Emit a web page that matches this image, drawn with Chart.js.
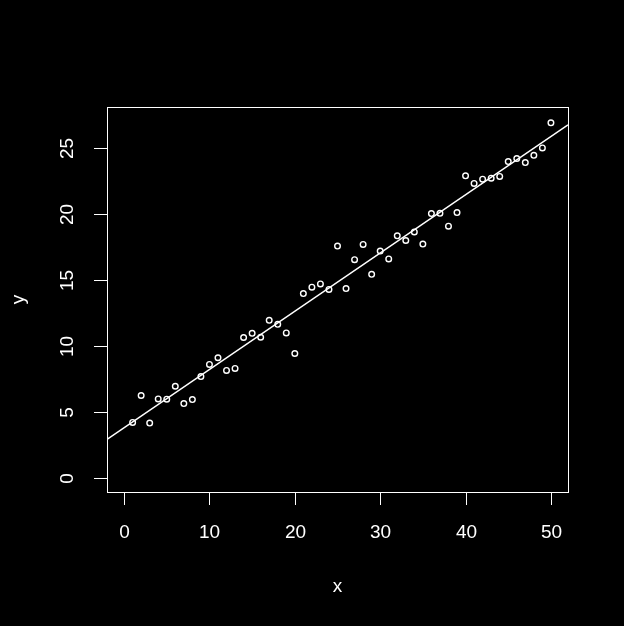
<!DOCTYPE html>
<html>
<head>
<meta charset="utf-8">
<script src="https://cdn.jsdelivr.net/npm/chart.js@4/dist/chart.umd.min.js"></script>
<style>
  html, body { margin: 0; padding: 0; background: #000; }
  canvas { display: block; }
</style>
</head>
<body>
<canvas id="plot" width="624" height="626"></canvas>
<script>
// observed values, x = 1..50
const xs = [1,2,3,4,5,6,7,8,9,10,11,12,13,14,15,16,17,18,19,20,
            21,22,23,24,25,26,27,28,29,30,31,32,33,34,35,36,37,38,39,40,
            41,42,43,44,45,46,47,48,49,50];
const ys = [4.19,6.23,4.14,5.97,5.95,6.93,5.62,5.92,7.66,8.58,
            9.09,8.13,8.28,10.62,10.94,10.64,11.92,11.62,10.97,9.41,
            13.95,14.43,14.68,14.26,17.55,14.33,16.52,17.67,15.41,17.17,
            16.57,18.32,17.97,18.62,17.70,20.01,20.03,19.05,20.08,22.87,
            22.29,22.61,22.69,22.82,23.95,24.17,23.87,24.42,24.98,26.88];

// fitted line end points
const fitX = [-2, 52];
const fitY = [2.90, 26.72];

const xTicks = [0, 10, 20, 30, 40, 50];
const yTicks = [0, 5, 10, 15, 20, 25];
const xTitle = 'x';
const yTitle = 'y';

const FONT = '19px "Liberation Sans", Arial, sans-serif';

// R-style frame, ticks and labels
const baseAxes = {
    id: 'baseAxes',
    beforeDraw(chart) {
        const ctx = chart.ctx;
        ctx.save();
        ctx.fillStyle = '#000';
        ctx.fillRect(0, 0, chart.width, chart.height);
        ctx.restore();
    },
    afterDraw(chart) {
        const ctx = chart.ctx;
        const a = chart.chartArea;
        const sx = chart.scales.x, sy = chart.scales.y;
        ctx.save();
        ctx.strokeStyle = '#fff';
        ctx.fillStyle = '#fff';
        ctx.lineWidth = 1;
        ctx.strokeRect(a.left + 0.5, a.top + 0.5, a.right - a.left, a.bottom - a.top);

        ctx.font = FONT;
        ctx.textAlign = 'center';
        ctx.textBaseline = 'middle';
        xTicks.forEach(v => {
            const px = Math.round(sx.getPixelForValue(v)) + 0.5;
            ctx.beginPath();
            ctx.moveTo(px, a.bottom);
            ctx.lineTo(px, a.bottom + 13);
            ctx.stroke();
            ctx.fillText(String(v), px, a.bottom + 41);
        });
        yTicks.forEach(v => {
            const py = Math.round(sy.getPixelForValue(v)) + 0.5;
            ctx.beginPath();
            ctx.moveTo(a.left, py);
            ctx.lineTo(a.left - 13, py);
            ctx.stroke();
            ctx.save();
            ctx.translate(a.left - 39, py);
            ctx.rotate(-Math.PI / 2);
            ctx.fillText(String(v), 0, 0);
            ctx.restore();
        });
        ctx.fillText(xTitle, (a.left + a.right) / 2, a.bottom + 95);
        ctx.save();
        ctx.translate(a.left - 88, (a.top + a.bottom) / 2);
        ctx.rotate(-Math.PI / 2);
        ctx.fillText(yTitle, 0, 0);
        ctx.restore();
        ctx.restore();
    }
};

const pts = xs.map((x, i) => ({ x: x, y: ys[i] }));
const fit = fitX.map((x, i) => ({ x: x, y: fitY[i] }));

new Chart(document.getElementById('plot'), {
    type: 'scatter',
    data: {
        datasets: [{
            data: pts,
            pointStyle: 'circle',
            pointRadius: 2.8,
            pointBorderWidth: 1.4,
            borderColor: '#fff',
            backgroundColor: 'rgba(0,0,0,0)'
        }, {
            type: 'line',
            data: fit,
            showLine: true,
            pointRadius: 0,
            borderColor: '#fff',
            borderWidth: 1.5,
            fill: false
        }]
    },
    options: {
        responsive: false,
        animation: false,
        devicePixelRatio: 1,
        layout: { padding: { left: 107, top: 107, right: 56, bottom: 134 } },
        plugins: { legend: { display: false }, tooltip: { enabled: false } },
        scales: {
            x: { type: 'linear', min: -2, max: 52, display: false },
            y: { type: 'linear', min: -1.08, max: 28.08, display: false }
        }
    },
    plugins: [baseAxes]
});
</script>
</body>
</html>
